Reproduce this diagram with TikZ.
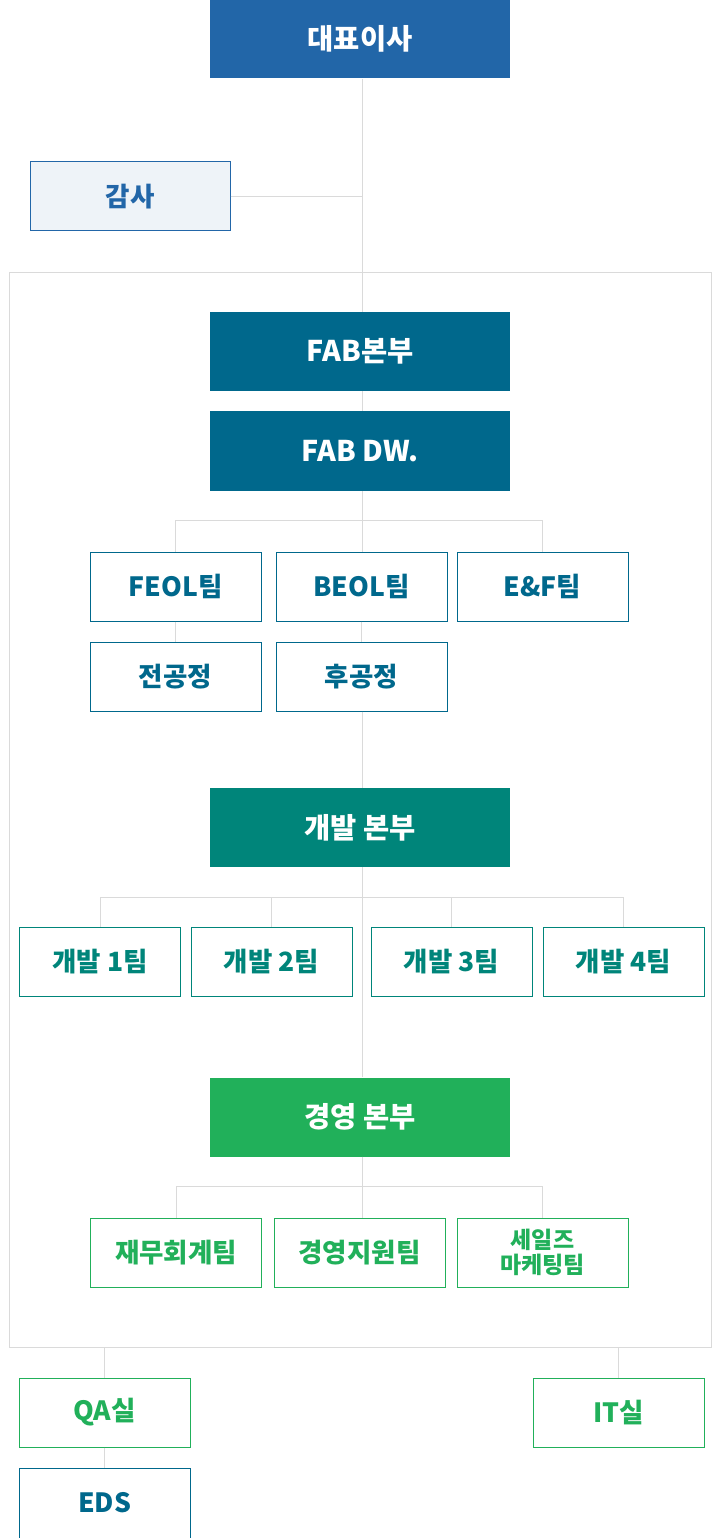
\documentclass[tikz,border=0pt]{standalone}
\usepackage{fontspec}
\setmainfont{Noto Sans CJK KR}
\usepackage{tikz}
\definecolor{ceoblue}{HTML}{2266A8}
\definecolor{auditbg}{HTML}{EEF3F8}
\definecolor{fabblue}{HTML}{00688C}
\definecolor{devteal}{HTML}{00857A}
\definecolor{mgmtgreen}{HTML}{21B05A}
\definecolor{linegray}{HTML}{DADADA}

\begin{document}
\begin{tikzpicture}[x=1pt,y=-1pt]
\tikzstyle{every node}+=[inner sep=0pt]
\tikzstyle{link}=[draw=linegray, line width=1pt]
\tikzstyle{head}=[rectangle, minimum width=300, minimum height=79, text=white, font=\bfseries\fontsize{28.5}{32}\selectfont]
\tikzstyle{team}=[rectangle, fill=white, line width=1pt, minimum width=171, minimum height=69, font=\bfseries\fontsize{26.5}{30}\selectfont]
\tikzstyle{fabteam}=[team, draw=fabblue, text=fabblue]
\tikzstyle{devteam}=[team, draw=devteal, text=devteal, minimum width=161]
\tikzstyle{mgmtteam}=[team, draw=mgmtgreen, text=mgmtgreen]
\useasboundingbox (0,0) rectangle (720,1538);
\node [draw=linegray, line width=1pt, minimum width=702, minimum height=1075] (frame) at (360.75,809.5) {};
\coordinate (spine) at (362,0);
\node [head, fill=ceoblue] (ceo) at (360,39) {대표이사};
\node [team, fill=auditbg, draw=ceoblue, text=ceoblue, minimum width=200] (audit) at (130,196.5) {감사};
\node [head, fill=fabblue] (fab) at (360,351.5) {FAB본부};
\node [head, fill=fabblue, minimum height=80] (fabdw) at (360,451) {FAB DW.};
\node [fabteam] (feol) at (175.5,586.5) {FEOL팀};
\node [fabteam] (beol) at (361.5,586.5) {BEOL팀};
\node [fabteam] (eaf) at (542.5,586.5) {E\&F팀};
\node [fabteam] (front) at (175.5,676.5) {전공정};
\node [fabteam] (back) at (361.5,676.5) {후공정};
\node [head, fill=devteal] (dev) at (360,827.5) {개발 본부};
\node [devteam] (dev1) at (100,961.5) {개발 1팀};
\node [devteam] (dev2) at (271.5,961.5) {개발 2팀};
\node [devteam] (dev3) at (451.5,961.5) {개발 3팀};
\node [devteam] (dev4) at (623.5,961.5) {개발 4팀};
\node [head, fill=mgmtgreen] (mgmt) at (360,1117) {경영 본부};
\node [mgmtteam] (fin) at (176,1252.5) {재무회계팀};
\node [mgmtteam] (support) at (359.5,1252.5) {경영지원팀};
\node [mgmtteam, align=center, font=\bfseries\fontsize{23}{25}\selectfont] (sales) at (542.5,1252.5) {세일즈\\마케팅팀};
\node [mgmtteam] (qa) at (104.5,1412.5) {QA실};
\node [fabteam, minimum height=70] (eds) at (104.5,1503) {EDS};
\node [mgmtteam] (it) at (618.5,1412.5) {IT실};
\draw [link] (spine |- ceo.south) -- (spine |- fab.north);
\draw [link] (audit.east) -- (audit.east -| spine);
\draw [link] (spine |- fab.south) -- (spine |- fabdw.north);
\draw [link] (spine |- fabdw.south) -- (spine |- beol.north);
\draw [link] (feol.north) -- ++(0,-31) -| (eaf.north);
\draw [link] (feol.south) -- (front.north);
\draw [link] (beol.south) -- (back.north);
\draw [link] (spine |- back.south) -- (spine |- dev.north);
\draw [link] (spine |- dev.south) -- (spine |- mgmt.north);
\draw [link] (dev1.north) -- ++(0,-29) -| (dev4.north);
\draw [link] (dev2.north) -- ++(0,-29);
\draw [link] (dev3.north) -- ++(0,-29);
\draw [link] (spine |- mgmt.south) -- (spine |- support.north);
\draw [link] (fin.north) -- ++(0,-31) -| (sales.north);
\draw [link] (frame.south -| qa.north) -- (qa.north);
\draw [link] (qa.south) -- (eds.north);
\draw [link] (frame.south -| it.north) -- (it.north);
\end{tikzpicture}
\end{document}
